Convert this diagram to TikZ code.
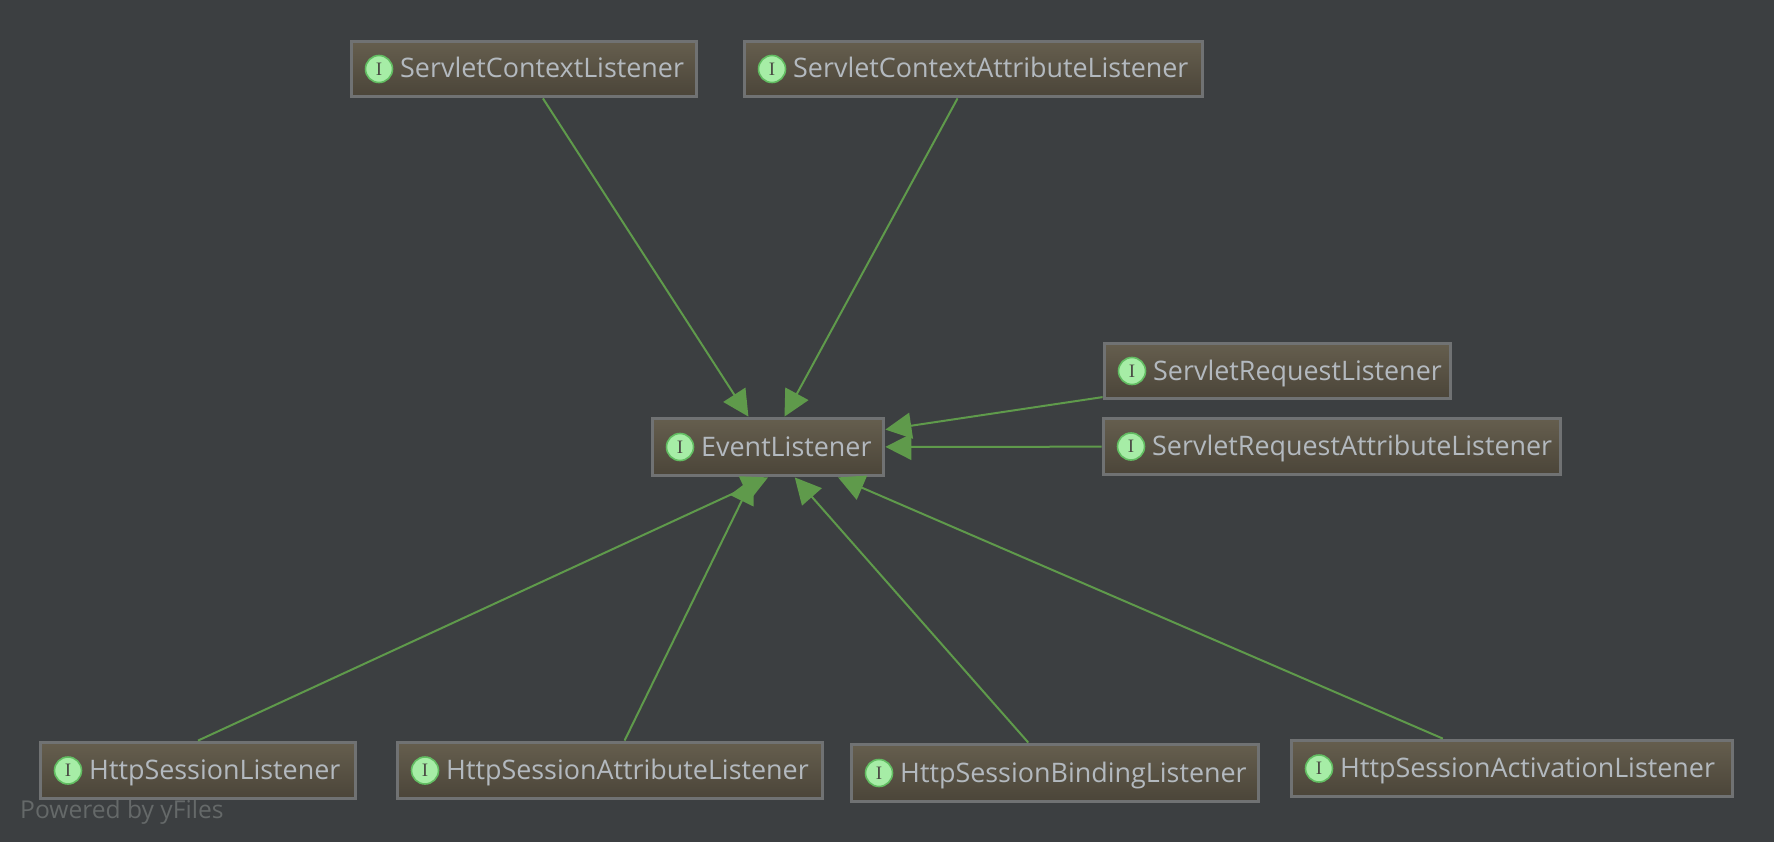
\documentclass[tikz,border=0pt]{standalone}
\usepackage{fontspec}
\setmainfont{Open Sans}
\newfontfamily\iconfont{Liberation Serif}
\usetikzlibrary{arrows.meta}
\definecolor{bgc}{HTML}{3C3F41}
\definecolor{boxtop}{HTML}{655E4E}
\definecolor{boxbot}{HTML}{4B4539}
\definecolor{boxline}{HTML}{707273}
\definecolor{edgec}{HTML}{5F9A4B}
\definecolor{txtc}{HTML}{B3B9BF}
\definecolor{wmc}{HTML}{656969}
\definecolor{icline}{HTML}{62BD62}
\definecolor{icfill}{HTML}{A6EDA6}
\definecolor{icdark}{HTML}{4A4A44}
\tikzset{
  ifbox/.style={draw=boxline,line width=2.8pt,top color=boxtop,bottom color=boxbot,rectangle,inner sep=0pt,outer sep=2pt},
  icon/.style={circle,draw=icline,line width=1.6pt,fill=icfill,minimum size=27pt,inner sep=0pt,text=icdark,font=\iconfont\fontsize{19pt}{19pt}\selectfont},
  iflabel/.style={text=txtc,inner sep=0pt,anchor=base west,font=\fontsize{26.9pt}{30pt}\selectfont},
  inh/.style={draw=edgec,line width=2pt,-{Triangle[length=26pt,width=26pt,color=edgec]}},
}
\newcommand{\ifaceBox}[6]{%
  \node[ifbox,minimum width=#4pt-#2pt-1.2pt,minimum height=#5pt-#3pt-1.2pt] (#1) at ({(#2+#4)/2},{(#3+#5)/2}) {};
  \node[icon] (#1-icon) at ({#2+28},{(#3+#5)/2}) {I};
  \node[iflabel] (#1-label) at ({#2+49},{(#3+#5)/2+9}) {#6};
}
\begin{document}
\begin{tikzpicture}[x=1pt,y=-1pt]
\path[fill=bgc] (0,0) rectangle (1774,842);
\useasboundingbox (0,0) rectangle (1774,842);
\node[text=wmc,inner sep=0pt,anchor=base west,font=\fontsize{24.6pt}{28pt}\selectfont] (wm) at (20,818) {Powered by yFiles};
\ifaceBox{scl}{351}{41}{697}{97}{ServletContextListener}
\ifaceBox{scal}{744}{41}{1203}{97}{ServletContextAttributeListener}
\ifaceBox{ev}{652}{418}{884}{476}{EventListener}
\ifaceBox{srl}{1104}{343}{1451}{399}{ServletRequestListener}
\ifaceBox{sral}{1103}{418}{1561}{475}{ServletRequestAttributeListener}
\ifaceBox{hsl}{40}{742}{356}{799}{HttpSessionListener}
\ifaceBox{hsal}{397}{742}{823}{799}{HttpSessionAttributeListener}
\ifaceBox{hsbl}{851}{744}{1259}{802}{HttpSessionBindingListener}
\ifaceBox{hsacl}{1291}{740}{1733}{797}{HttpSessionActivationListener}
\draw[inh] (scl) -- (ev);
\draw[inh] (scal) -- (ev);
\draw[inh] (srl) -- (ev);
\draw[inh] (sral) -- (ev);
\draw[inh] (hsl.north) -- (ev.south);
\draw[inh] (hsal) -- (ev);
\draw[inh] (hsbl) -- (ev);
\draw[inh] (hsacl) -- (ev);
\end{tikzpicture}
\end{document}
